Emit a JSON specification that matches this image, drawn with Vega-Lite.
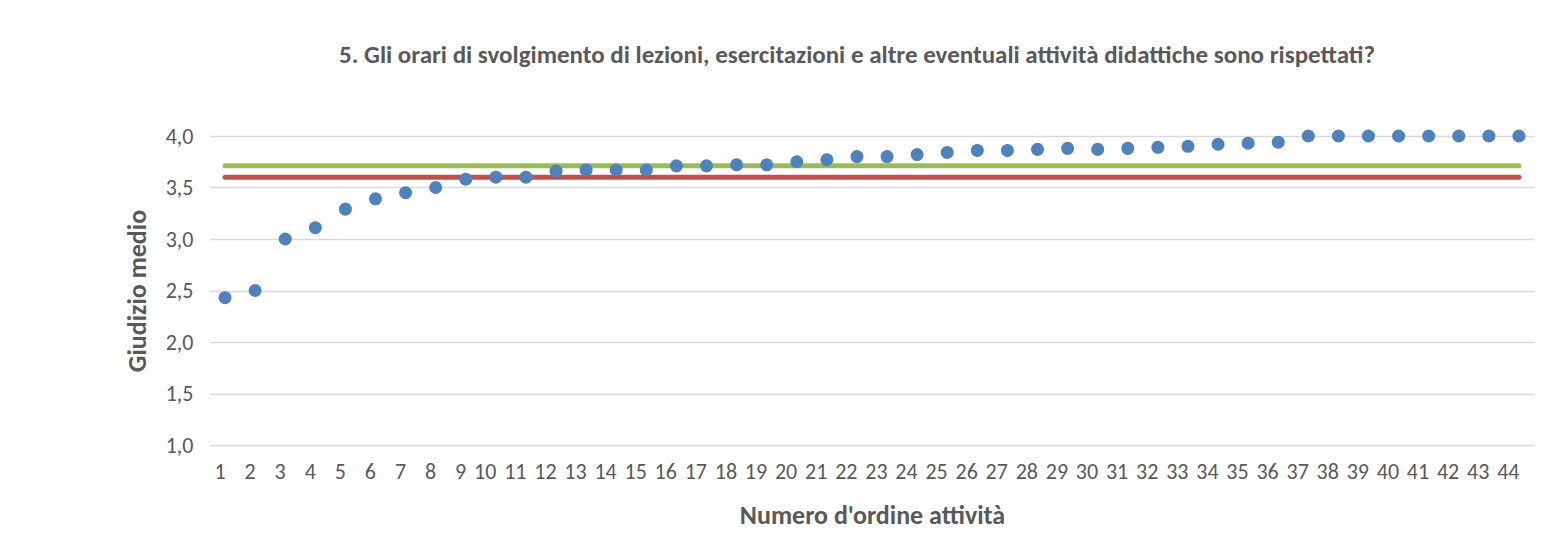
{
  "$schema": "https://vega.github.io/schema/vega-lite/v6.json",
  "autosize": "none",
  "width": 1324,
  "height": 309,
  "padding": {"left": 210, "top": 136, "right": 27, "bottom": 94},
  "background": "white",
  "config": {
    "view": {"stroke": null},
    "font": "Carlito, Calibri, Lato, sans-serif",
    "axis": {"labelColor": "#595959", "titleColor": "#595959", "labelFontSize": 22, "titleFontSize": 26, "titleFontWeight": "bold"}
  },
  "title": {
    "text": "5. Gli orari di svolgimento di lezioni, esercitazioni e altre eventuali attività didattiche sono rispettati?",
    "fontSize": 25,
    "fontWeight": "bold",
    "color": "#595959",
    "anchor": "middle",
    "dx": -15,
    "offset": 57
  },
  "datasets": {
    "points": [
      {"attivita": "1", "giudizio": 2.43},
      {"attivita": "2", "giudizio": 2.50},
      {"attivita": "3", "giudizio": 3.00},
      {"attivita": "4", "giudizio": 3.11},
      {"attivita": "5", "giudizio": 3.29},
      {"attivita": "6", "giudizio": 3.39},
      {"attivita": "7", "giudizio": 3.45},
      {"attivita": "8", "giudizio": 3.50},
      {"attivita": "9", "giudizio": 3.58},
      {"attivita": "10", "giudizio": 3.60},
      {"attivita": "11", "giudizio": 3.60},
      {"attivita": "12", "giudizio": 3.66},
      {"attivita": "13", "giudizio": 3.67},
      {"attivita": "14", "giudizio": 3.67},
      {"attivita": "15", "giudizio": 3.67},
      {"attivita": "16", "giudizio": 3.71},
      {"attivita": "17", "giudizio": 3.71},
      {"attivita": "18", "giudizio": 3.72},
      {"attivita": "19", "giudizio": 3.72},
      {"attivita": "20", "giudizio": 3.75},
      {"attivita": "21", "giudizio": 3.77},
      {"attivita": "22", "giudizio": 3.80},
      {"attivita": "23", "giudizio": 3.80},
      {"attivita": "24", "giudizio": 3.82},
      {"attivita": "25", "giudizio": 3.84},
      {"attivita": "26", "giudizio": 3.86},
      {"attivita": "27", "giudizio": 3.86},
      {"attivita": "28", "giudizio": 3.87},
      {"attivita": "29", "giudizio": 3.88},
      {"attivita": "30", "giudizio": 3.87},
      {"attivita": "31", "giudizio": 3.88},
      {"attivita": "32", "giudizio": 3.89},
      {"attivita": "33", "giudizio": 3.90},
      {"attivita": "34", "giudizio": 3.92},
      {"attivita": "35", "giudizio": 3.93},
      {"attivita": "36", "giudizio": 3.94},
      {"attivita": "37", "giudizio": 4.00},
      {"attivita": "38", "giudizio": 4.00},
      {"attivita": "39", "giudizio": 4.00},
      {"attivita": "40", "giudizio": 4.00},
      {"attivita": "41", "giudizio": 4.00},
      {"attivita": "42", "giudizio": 4.00},
      {"attivita": "43", "giudizio": 4.00},
      {"attivita": "44", "giudizio": 4.00}
    ],
    "refs": [
      {"serie": "Media corso", "da": "1", "a": "44", "valore": 3.71},
      {"serie": "Media ateneo", "da": "1", "a": "44", "valore": 3.60}
    ]
  },
  "layer": [
    {
      "data": {"name": "refs"},
      "mark": {"type": "rule", "strokeWidth": 5, "strokeCap": "round"},
      "encoding": {
        "x": {"field": "da", "type": "ordinal", "sort": null},
        "x2": {"field": "a"},
        "y": {"field": "valore", "type": "quantitative"},
        "color": {"field": "serie", "type": "nominal", "scale": {"domain": ["Media corso", "Media ateneo"], "range": ["#9BBB59", "#C0504D"]}, "legend": null}
      }
    },
    {
      "data": {"name": "points"},
      "mark": {"type": "point", "filled": true, "size": 170, "opacity": 1, "color": "#4F81BD"},
      "encoding": {
        "x": {
          "field": "attivita", "type": "ordinal", "sort": null,
          "scale": {"type": "point", "padding": 0.5, "domain": ["1","2","3","4","5","6","7","8","9","10","11","12","13","14","15","16","17","18","19","20","21","22","23","24","25","26","27","28","29","30","31","32","33","34","35","36","37","38","39","40","41","42","43","44"]},
          "axis": {"title": "Numero d'ordine attività", "labelAngle": 0, "domain": false, "ticks": false, "labelPadding": 26, "titlePadding": 20}
        },
        "y": {
          "field": "giudizio", "type": "quantitative",
          "scale": {"domain": [1, 4], "nice": false, "zero": false},
          "axis": {
            "title": "Giudizio medio",
            "values": [1, 1.5, 2, 2.5, 3, 3.5, 4],
            "labelExpr": "replace(format(datum.value, '.1f'), '.', ',')",
            "domain": false, "ticks": false, "grid": true, "gridColor": "#D9D9D9", "gridWidth": 1.5,
            "labelPadding": 17, "titlePadding": 15
          }
        }
      }
    }
  ]
}
